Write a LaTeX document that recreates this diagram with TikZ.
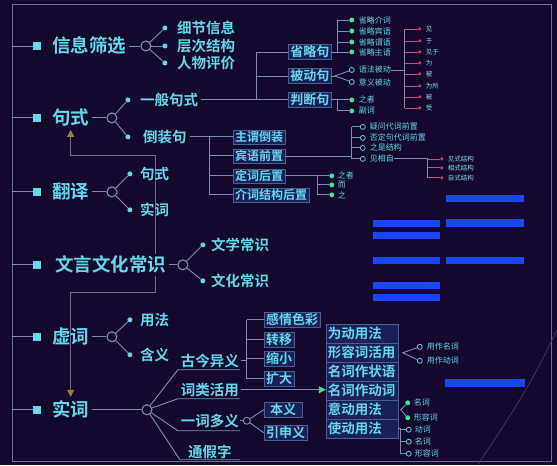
\documentclass[tikz,border=0pt]{standalone}
\usepackage{fontspec}
\setmainfont{Noto Sans CJK SC}[BoldFont={Noto Sans CJK SC Bold}]
\usetikzlibrary{arrows.meta}
\pgfdeclarelayer{back}
\pgfsetlayers{back,main}
\definecolor{bg}{RGB}{20,9,44}
\definecolor{cy}{RGB}{100,215,238}
\definecolor{ln}{RGB}{125,140,180}
\definecolor{bxl}{RGB}{70,95,150}
\definecolor{bxf}{RGB}{28,32,88}
\definecolor{gr}{RGB}{70,225,140}
\definecolor{rd}{RGB}{225,45,95}
\definecolor{bl}{RGB}{25,70,250}
\definecolor{br}{RGB}{150,125,70}
\definecolor{lk}{RGB}{115,105,135}
\begin{document}
\begin{tikzpicture}[x=1pt,y=-1pt,
 every node/.style={inner sep=0pt},
 main/.style={anchor=west,text=cy,font=\bfseries\fontsize{18.5}{18.5}\selectfont},
 sq/.style={fill=cy,minimum size=8pt},
 hub/.style={circle,draw=ln,fill=bg,line width=1.1pt,minimum size=10pt},
 dot/.style={circle,fill=cy,minimum size=5pt},
 subt/.style={anchor=west,text=cy,font=\bfseries\fontsize{14.5}{14.5}\selectfont},
 midt/.style={text=cy,font=\bfseries\fontsize{14.5}{14.5}\selectfont},
 bx/.style={draw=bxl,fill=bxf,text=cy,font=\bfseries\fontsize{12}{12}\selectfont,inner xsep=2pt,minimum height=14pt},
 bxm/.style={bx,font=\bfseries\fontsize{13}{13}\selectfont,minimum height=15pt},
 wbox/.style={anchor=west,draw=bxl,fill=bxf,text=cy,font=\bfseries\fontsize{13.5}{13.5}\selectfont,inner xsep=2pt,text width=68pt,align=left,minimum height=19pt},
 tiny/.style={anchor=west,text=cy,font=\fontsize{8}{8}\selectfont},
 tinier/.style={anchor=west,text=cy!80!white,font=\fontsize{6.5}{6.5}\selectfont},
 gdot/.style={circle,fill=gr,minimum size=5pt},
 hdot/.style={circle,draw=cy!70!ln,line width=0.8pt,minimum size=5pt},
 rdot/.style={circle,fill=rd,minimum size=3.5pt},
 wire/.style={draw=ln,line width=0.9pt},
 rwire/.style={draw=rd!60!ln,line width=0.8pt},
 frame/.style={draw=ln!80!bg,line width=0.9pt},
 bar/.style={fill=bl}
]
\begin{pgfonlayer}{back}
\fill[bg] (0,0) rectangle (557,465);
\draw[frame] (12,4) rectangle (552,462);
\draw[draw=ln!40!bg,line width=0.7pt] (478,465) .. controls (505,425) and (535,380) .. (557,330);
\end{pgfonlayer}
\useasboundingbox (0,0) rectangle (557,465);

% ---------- 信息筛选
\coordinate (t1) at (12,46);
\node[sq] (s1) at (37,46) {};
\node[main] (m1) at (52,46) {信息筛选};
\node[hub] (h1) at (146,46) {};
\node[dot] (d11) at (165,28) {};
\node[dot] (d12) at (165,46) {};
\node[dot] (d13) at (165,63) {};
\node[subt] (x11) at (177,28) {细节信息};
\node[subt] (x12) at (177,46) {层次结构};
\node[subt] (x13) at (177,63) {人物评价};
\draw[wire] (t1) -- (s1);
\draw[wire] ([xshift=3pt]m1.east) -- (h1);
\draw[wire] (h1) -- (d11); \draw[wire] (h1) -- (d12); \draw[wire] (h1) -- (d13);

% ---------- 句式
\coordinate (t2) at (12,118);
\node[sq] (s2) at (37,118) {};
\node[main] (m2) at (52,118) {句式};
\node[hub] (h2) at (112,118) {};
\node[dot] (d21) at (128,100) {};
\node[dot] (d22) at (128,137) {};
\node[subt] (x21) at (140,100) {一般句式};
\node[subt] (x22) at (143,137) {倒装句};
\draw[wire] (t2) -- (s2);
\draw[wire] ([xshift=3pt]m2.east) -- (h2);
\draw[wire] (h2) -- (d21); \draw[wire] (h2) -- (d22);

% ---------- 翻译
\coordinate (t3) at (12,192);
\node[sq] (s3) at (37,192) {};
\node[main] (m3) at (52,192) {翻译};
\node[hub] (h3) at (112,192) {};
\node[dot] (d31) at (130,174) {};
\node[dot] (d32) at (130,210) {};
\node[subt] (x31) at (140,174) {句式};
\node[subt] (x32) at (140,210) {实词};
\draw[wire] (t3) -- (s3);
\draw[wire] ([xshift=3pt]m3.east) -- (h3);
\draw[wire] (h3) -- (d31); \draw[wire] (h3) -- (d32);

% ---------- link helpers
\coordinate (r155) at (0,155);
\coordinate (r293) at (0,293);
\coordinate (lk1) at (155,155);
\coordinate (lk2) at (155,293);

% ---------- 文言文化常识
\coordinate (t4) at (12,265);
\node[sq] (s4) at (37,265) {};
\node[main,fill=bg,inner ysep=2pt] (m4) at (55,265) {文言文化常识};
\node[hub] (h4) at (183,265) {};
\node[dot] (d41) at (203,245) {};
\node[dot] (d42) at (203,281) {};
\node[subt] (x41) at (211,245) {文学常识};
\node[subt] (x42) at (211,281) {文化常识};
\draw[wire] (t4) -- (s4);
\draw[wire] ([xshift=3pt]m4.east) -- (h4);
\draw[wire] (h4) -- (d41); \draw[wire] (h4) -- (d42);

% ---------- 虚词
\coordinate (t5) at (12,337);
\node[sq] (s5) at (37,337) {};
\node[main] (m5) at (52,337) {虚词};
\node[hub] (h5) at (112,337) {};
\node[dot] (d51) at (130,320) {};
\node[dot] (d52) at (130,355) {};
\node[subt] (x51) at (140,320) {用法};
\node[subt] (x52) at (140,355) {含义};
\draw[wire] (t5) -- (s5);
\draw[wire] ([xshift=3pt]m5.east) -- (h5);
\draw[wire] (h5) -- (d51); \draw[wire] (h5) -- (d52);

% ---------- 实词
\coordinate (t6) at (12,410);
\node[sq] (s6) at (37,410) {};
\node[main] (m6) at (52,410) {实词};
\node[hub] (h6) at (147,410) {};
\draw[wire] (t6) -- (s6);
\draw[wire] ([xshift=3pt]m6.east) -- (h6);

\begin{pgfonlayer}{back}
\draw[draw=lk,line width=0.8pt,{Triangle[length=7pt,width=7pt,color=br]}-{Triangle[length=7pt,width=7pt,color=br]}]
  ([yshift=-3pt]m2.south) -- (m2.south |- r155) -- (lk1) -- (lk2) -- (m6.north |- r293) -- ([yshift=4pt]m6.north);
\end{pgfonlayer}

\node[midt] (c1) at (210,361) {古今异义};
\node[midt] (c2) at (210,390) {词类活用};
\node[midt] (c3) at (210,421) {一词多义};
\node[midt] (c4) at (210,452) {通假字};
\coordinate (u1a) at (178,370); \coordinate (u1b) at (240,370);
\coordinate (u2a) at (178,399); \coordinate (u2b) at (240,399);
\coordinate (u3a) at (178,431); \coordinate (u3b) at (240,431);
\coordinate (u4a) at (180,460); \coordinate (u4b) at (240,460);
\draw[wire] (h6) -- (u1a) -- (u1b);
\draw[wire] (h6) -- (u2a) -- (u2b);
\draw[wire] (h6) -- (u3a) -- (u3b);
\draw[wire] (h6) -- (u4a) -- (u4b);

% 古今异义 bracket
\coordinate (k0) at (247,361);
\coordinate (k1) at (247,320);
\coordinate (k4) at (247,379);
\node[bxm,anchor=west] (g1) at (264,320) {感情色彩};
\node[bxm,anchor=west] (g2) at (264,340) {转移};
\node[bxm,anchor=west] (g3) at (264,359) {缩小};
\node[bxm,anchor=west] (g4) at (264,379) {扩大};
\draw[wire] ([xshift=2pt]c1.east) -- (k0);
\draw[wire] (k1) -- (k4);
\draw[wire] (k1) -- (g1.west);
\draw[wire] (g2.west -| k1) -- (g2.west);
\draw[wire] (g3.west -| k1) -- (g3.west);
\draw[wire] (k4) -- (g4.west);

% 词类活用 column
\node[wbox] (wb1) at (326,334) {为动用法};
\node[wbox] (wb2) at (326,353) {形容词活用};
\node[wbox] (wb3) at (326,372) {名词作状语};
\node[wbox] (wb4) at (326,391) {名词作动词};
\node[wbox] (wb5) at (326,410) {意动用法};
\node[wbox] (wb6) at (326,429) {使动用法};
\draw[wire,-{Triangle[length=7pt,width=7pt,color=gr]}] ([xshift=2pt]c2.east) -- (c2.east -| wb4.west);

% 形容词活用
\coordinate (v2) at (403,353);
\node[hdot] (o21) at (420,347) {};
\node[hdot] (o22) at (420,361) {};
\node[tiny] (y21) at (427,347) {用作名词};
\node[tiny] (y22) at (427,361) {用作动词};
\draw[wire] (o21) -- (v2) -- (o22);

% 意动用法
\coordinate (v5) at (401,410);
\node[gdot] (o51) at (408,403) {};
\node[gdot] (o52) at (408,418) {};
\node[tiny] (y51) at (414,403) {名词};
\node[tiny] (y52) at (414,418) {形容词};
\draw[wire] (o51) -- (v5) -- (o52);

% 使动用法
\coordinate (q0) at (401,429);
\coordinate (q1) at (401,454);
\node[hdot] (o61) at (409,430) {};
\node[hdot] (o62) at (409,442) {};
\node[hdot] (o63) at (409,454) {};
\node[tiny] (y61) at (415,430) {动词};
\node[tiny] (y62) at (415,442) {名词};
\node[tiny] (y63) at (415,454) {形容词};
\draw[wire] (wb6.east) -- (q0) -- (q1);
\draw[wire] (o61 -| q0) -- (o61);
\draw[wire] (o62 -| q0) -- (o62);
\draw[wire] (q1) -- (o63);

% 一词多义
\node[circle,draw=ln,fill=bg,line width=0.9pt,minimum size=7pt] (yc) at (247,421) {};
\node[bxm,anchor=west,minimum width=38pt] (b1) at (264,410) {本义};
\node[bxm,anchor=west,minimum width=38pt] (b2) at (264,433) {引申义};
\draw[wire] ([xshift=1pt]c3.east) -- (yc);
\draw[wire] (yc) -- (b1.west);
\draw[wire] (yc) -- (b2.west);

% ---------- 一般句式 -> 省略句 / 被动句 / 判断句
\coordinate (j0) at (257,100);
\coordinate (j1) at (257,52);
\node[bxm] (bb1) at (310,52) {省略句};
\node[bxm] (bb2) at (310,76) {被动句};
\node[bxm] (bb3) at (310,100) {判断句};
\draw[wire] ([xshift=3pt]x21.east) -- (j0) -- (j1);
\draw[wire] (j1) -- (bb1.west);
\draw[wire] (bb2.west -| j1) -- (bb2.west);
\draw[wire] (j0) -- (bb3.west);

% 省略句
\coordinate (e0) at (338,52);
\coordinate (e1) at (338,20);
\node[gdot] (ga1) at (352,20) {};
\node[gdot] (ga2) at (352,31) {};
\node[gdot] (ga3) at (352,42) {};
\node[gdot] (ga4) at (352,52) {};
\node[tiny] (ta1) at (359,20) {省略介词};
\node[tiny] (ta2) at (359,31) {省略宾语};
\node[tiny] (ta3) at (359,42) {省略谓语};
\node[tiny] (ta4) at (359,52) {省略主语};
\draw[wire] (bb1.east) -- (e0) -- (e1);
\draw[wire] (e1) -- (ga1);
\draw[wire] (ga2 -| e0) -- (ga2);
\draw[wire] (ga3 -| e0) -- (ga3);
\draw[wire] (e0) -- (ga4);

% 被动句
\coordinate (vv) at (335,76);
\node[hdot] (pa) at (352,70) {};
\node[hdot] (pb) at (352,82) {};
\node[tiny] (tpa) at (359,70) {语法被动};
\node[tiny] (tpb) at (359,82) {意义被动};
\draw[wire] (bb2.east) -- (vv);
\draw[wire] (pa) -- (vv) -- (pb);
\coordinate (r0) at (405,70);
\coordinate (rt) at (405,29);
\coordinate (rb) at (405,108);
\draw[wire] (tpa.east) -- (r0);
\draw[wire] (rt) -- (rb);
\foreach \i/\yy/\tt in {1/29/见,2/41/于,3/52/见于,4/63/为,5/74/被,6/86/为所,7/97/被,8/108/受}{
  \node[rdot] (rd\i) at (420,\yy) {};
  \node[tinier] (rt\i) at (426,\yy) {\tt};
  \draw[rwire] (rd\i -| rt) -- (rd\i);
}

% 判断句
\coordinate (f0) at (338,100);
\coordinate (f1) at (338,111);
\node[gdot] (gp1) at (352,100) {};
\node[gdot] (gp2) at (352,111) {};
\node[tiny] (tp1) at (359,100) {之者};
\node[tiny] (tp2) at (359,111) {副词};
\draw[wire] (bb3.east) -- (f0) -- (f1);
\draw[wire] (f0) -- (gp1);
\draw[wire] (f1) -- (gp2);

% ---------- 倒装句
\coordinate (w0) at (210,137);
\coordinate (w1) at (210,195);
\node[bx,anchor=west] (z1) at (233,137) {主谓倒装};
\node[bx,anchor=west] (z2) at (233,156) {宾语前置};
\node[bx,anchor=west] (z3) at (233,176) {定词后置};
\node[bx,anchor=west] (z4) at (233,195) {介词结构后置};
\draw[wire] ([xshift=3pt]x22.east) -- (w0) -- (w1);
\draw[wire] (w0) -- (z1.west);
\draw[wire] (z2.west -| w0) -- (z2.west);
\draw[wire] (z3.west -| w0) -- (z3.west);
\draw[wire] (w1) -- (z4.west);

% 宾语前置
\coordinate (n0) at (352,157);
\coordinate (n1) at (352,127);
\coordinate (n2) at (352,159);
\node[hdot] (oq1) at (363,127) {};
\node[hdot] (oq2) at (363,138) {};
\node[hdot] (oq3) at (363,148) {};
\node[hdot] (oq4) at (363,159) {};
\node[tiny] (tq1) at (370,127) {疑问代词前置};
\node[tiny] (tq2) at (370,138) {否定句代词前置};
\node[tiny] (tq3) at (370,148) {之是结构};
\node[tiny] (tq4) at (370,159) {见相自};
\draw[wire] (z2.east |- n0) -- (n0);
\draw[wire] (n1) -- (n2);
\draw[wire] (n1) -- (oq1);
\draw[wire] (oq2 -| n1) -- (oq2);
\draw[wire] (oq3 -| n1) -- (oq3);
\draw[wire] (n2) -- (oq4);

% 见相自
\coordinate (a0) at (428,159);
\coordinate (a1) at (428,178);
\node[rdot] (ra1) at (442,159) {};
\node[rdot] (ra2) at (442,168) {};
\node[rdot] (ra3) at (442,178) {};
\node[tinier] (tr1) at (448,159) {见式结构};
\node[tinier] (tr2) at (448,168) {相式结构};
\node[tinier] (tr3) at (448,178) {自式结构};
\draw[wire] (tq4.east) -- (a0) -- (a1);
\draw[rwire] (a0) -- (ra1);
\draw[rwire] (ra2 -| a0) -- (ra2);
\draw[rwire] (a1) -- (ra3);

% 定词后置
\coordinate (l0) at (318,176);
\coordinate (l1) at (318,195);
\node[gdot] (gl1) at (332,176) {};
\node[gdot] (gl2) at (332,185) {};
\node[gdot] (gl3) at (332,195) {};
\node[tiny] (tl1) at (338,176) {之者};
\node[tiny] (tl2) at (338,185) {而};
\node[tiny] (tl3) at (338,195) {之};
\draw[wire] (z3.east) -- (l0) -- (l1);
\draw[wire] (l0) -- (gl1);
\draw[wire] (gl2 -| l0) -- (gl2);
\draw[wire] (l1) -- (gl3);

% ---------- blue bars
\fill[bar] (446,195) rectangle (524,202);
\fill[bar] (446,219) rectangle (524,227);
\fill[bar] (446,257) rectangle (524,264);
\fill[bar] (373,220) rectangle (440,227);
\fill[bar] (373,232) rectangle (440,239);
\fill[bar] (373,257) rectangle (440,264);
\fill[bar] (373,282) rectangle (440,289);
\fill[bar] (373,294) rectangle (440,301);
\fill[bar] (445,379) rectangle (525,387);
\end{tikzpicture}
\end{document}
